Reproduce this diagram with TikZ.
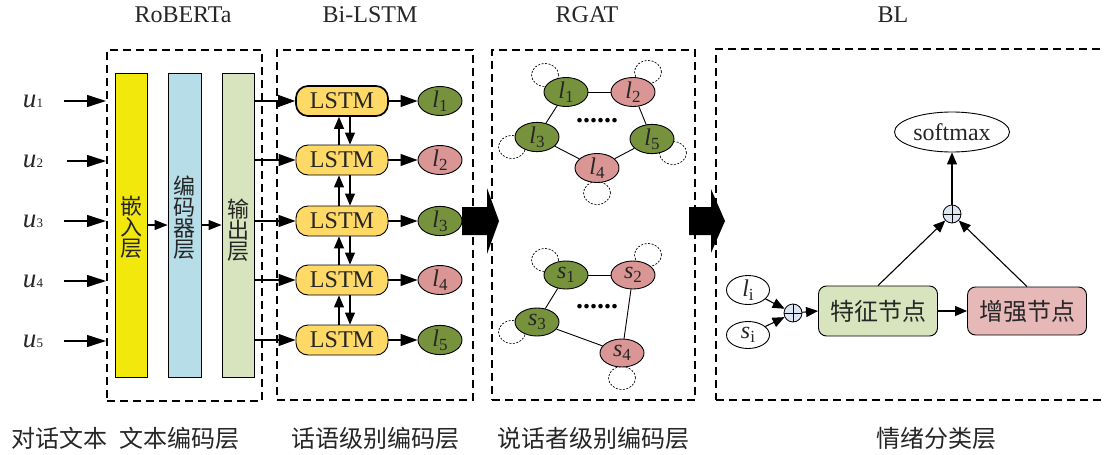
\documentclass[tikz,border=0pt]{standalone}
\usepackage{fontspec}
\setmainfont{Liberation Serif}
\newfontfamily\cjk{Noto Sans CJK SC}
\usetikzlibrary{arrows.meta,shapes.geometric}
\newcommand{\fsz}[1]{\fontsize{#1}{#1}\selectfont}
\newcommand{\lsub}[2]{\textit{#1}\raisebox{-0.35ex}{\fsz{17}#2}}
\newcommand{\ulab}[1]{\textit{u}{\fsz{13}#1}}
\definecolor{cyel}{RGB}{242,232,12}
\definecolor{cblu}{RGB}{183,221,232}
\definecolor{cgrn}{RGB}{215,228,189}
\definecolor{clstm}{RGB}{255,217,102}
\definecolor{cng}{RGB}{118,146,60}
\definecolor{cnp}{RGB}{217,150,148}
\definecolor{cenh}{RGB}{230,185,184}
\definecolor{cop}{RGB}{220,230,242}
\definecolor{ctxt}{RGB}{38,38,38}
\begin{document}
\begin{tikzpicture}[x=1pt,y=-1pt,
  dashbox/.style={draw, dash pattern=on 8pt off 5pt, line width=1.2pt, inner sep=0pt},
  bar/.style={draw, line width=0.9pt, minimum width=32pt, minimum height=304pt, inner sep=0pt},
  bartxt/.style={font=\cjk\fsz{22}, text=ctxt, align=center, inner sep=0pt},
  lstm/.style={draw, line width=0.9pt, fill=clstm, rounded corners=12pt, minimum width=92pt, minimum height=30pt, inner sep=0pt, font=\fsz{24}, text=ctxt},
  gn/.style={draw, line width=0.9pt, ellipse, fill=cng, minimum width=44pt, minimum height=29pt, inner sep=0pt, font=\fsz{24}, text=ctxt},
  pn/.style={gn, fill=cnp},
  wn/.style={draw, line width=0.9pt, ellipse, fill=white, minimum width=43pt, minimum height=27pt, inner sep=0pt, font=\fsz{24}, text=ctxt},
  lp/.style={draw, line width=0.7pt, dash pattern=on 2pt off 1.5pt, ellipse, minimum width=27pt, minimum height=23pt, inner sep=0pt},
  oplus/.style={draw, line width=0.8pt, circle, fill=cop, minimum size=18pt, inner sep=0pt,
     path picture={\draw[line width=0.8pt] (path picture bounding box.north) -- (path picture bounding box.south) (path picture bounding box.west) -- (path picture bounding box.east);}},
  bigarr/.style={-{Triangle[length=19pt,width=12pt]}, line width=1.1pt},
  midarr/.style={-{Triangle[length=17pt,width=12pt]}, line width=1.1pt},
  sarr/.style={-{Triangle[length=13pt,width=10pt]}, line width=1.1pt},
  varr/.style={-{Triangle[length=12pt,width=10pt]}, line width=1.1pt},
  edge/.style={line width=0.9pt},
  title/.style={font=\fsz{24}, text=ctxt, anchor=base, inner sep=0pt},
  bot/.style={font=\cjk\fsz{24}, text=ctxt, inner sep=0pt},
  blk/.style={fill=black}
]
\clip (0,0) rectangle (1104,455);
\fill[white] (0,0) rectangle (1104,455);

% titles
\node[title] (t1) at (183,22) {RoBERTa};
\node[title] (t2) at (370,22) {Bi-LSTM};
\node[title] (t3) at (587,22) {RGAT};
\node[title] (t4) at (893,22) {BL};

% dashed boxes
\node[dashbox, minimum width=155pt, minimum height=351pt] (boxA) at (184.5,225.5) {};
\node[dashbox, minimum width=196pt, minimum height=350pt] (boxB) at (375,225) {};
\node[dashbox, minimum width=203pt, minimum height=350pt] (boxC) at (593.5,225) {};
\node[dashbox, minimum width=400pt, minimum height=351pt] (boxD) at (916,224.5) {};

% RoBERTa bars
\node[bar, fill=cyel] (b1) at (131,225) {};
\node[bar, fill=cblu, minimum width=33pt] (b2) at (184.5,225) {};
\node[bar, fill=cgrn] (b3) at (238,225) {};
\node[bartxt] (bt1) at (131,227) {嵌\\[-1pt]入\\[-1pt]层};
\node[bartxt] (bt2) at (184.5,218) {编\\[-1pt]码\\[-1pt]器\\[-1pt]层};
\node[bartxt] (bt3) at (238,230) {输\\[-1pt]出\\[-1pt]层};
\draw[sarr] (b1.east) -- (b2.west);
\draw[sarr] (b2.east) -- (b3.west);

% inputs
\foreach \i/\y/\xs in {1/101/64,2/161/67,3/221/64,4/281/64,5/341/64}{
  \node[font=\fsz{27}, text=ctxt, inner sep=0pt] (u\i) at (33,\y) {\ulab{\i}};
  \coordinate (us\i) at (\xs,\y);
  \coordinate (ue\i) at (106,\y);
  \draw[bigarr] (us\i) -- (ue\i);
}

% LSTM column
\node[lstm, line width=1.7pt] (L1) at (342,101) {LSTM};
\node[lstm] (L2) at (342,160) {LSTM};
\node[lstm] (L3) at (342,221) {LSTM};
\node[lstm] (L4) at (342,280) {LSTM};
\node[lstm] (L5) at (342,340) {LSTM};
\node[gn] (o1) at (440,101) {\lsub{l}{1}};
\node[pn] (o2) at (440,160) {\lsub{l}{2}};
\node[gn] (o3) at (440,221) {\lsub{l}{3}};
\node[pn] (o4) at (440,280) {\lsub{l}{4}};
\node[gn] (o5) at (440,340) {\lsub{l}{5}};
\foreach \i in {1,...,5}{
  \draw[midarr] (b3.east |- L\i.west) -- (L\i.west);
  \draw[midarr] (L\i.east) -- (o\i.west);
}
\foreach \a/\b in {1/2,2/3,3/4,4/5}{
  \draw[varr] ([xshift=-3pt]L\b.north) -- ([xshift=-3pt]L\a.south);
  \draw[varr] ([xshift=8pt]L\a.south) -- ([xshift=8pt]L\b.north);
}

% big block arrows
\fill[blk] (462,207) -- (487,207) -- (487,188) -- (499,221) -- (487,254) -- (487,235) -- (462,235) -- cycle;
\fill[blk] (689,207) -- (711,207) -- (711,189) -- (725,221) -- (711,253) -- (711,235) -- (689,235) -- cycle;

% RGAT: self loops
\node[lp] (q1) at (545,75) {};
\node[lp] (q2) at (648,72) {};
\node[lp] (q3) at (512,147) {};
\node[lp] (q5) at (673,153) {};
\node[lp] (q4) at (597,193) {};
\node[lp] (r1) at (545,260) {};
\node[lp] (r2) at (648,255) {};
\node[lp] (r3) at (512,332) {};
\node[lp] (r4) at (622,378) {};
% l graph
\node[gn, minimum height=28pt] (g1) at (566,92) {\lsub{l}{1}};
\node[pn, minimum height=28pt] (g2) at (633,92) {\lsub{l}{2}};
\node[gn, minimum height=28pt] (g3) at (537,137) {\lsub{l}{3}};
\node[gn, minimum height=28pt] (g5) at (652,139) {\lsub{l}{5}};
\node[pn, minimum height=28pt] (g4) at (597,168) {\lsub{l}{4}};
\node[font=\fsz{28}\bfseries, inner sep=0pt] (d1) at (597,121) {......};
\draw[edge] (g1) -- (g2);
\draw[edge] (g1) -- (g3);
\draw[edge] (g3) -- (g4);
\draw[edge] (g4) -- (g5);
\draw[edge] (g2) -- (g5);
% s graph
\node[gn, minimum height=28pt] (s1) at (566,275) {\lsub{s}{1}};
\node[pn, minimum height=28pt] (s2) at (633,275) {\lsub{s}{2}};
\node[gn, minimum height=28pt] (s3) at (537,322) {\lsub{s}{3}};
\node[pn, minimum height=28pt] (s4) at (622,353) {\lsub{s}{4}};
\node[font=\fsz{28}\bfseries, inner sep=0pt] (d2) at (597,307) {......};
\draw[edge] (s1) -- (s2);
\draw[edge] (s1) -- (s3);
\draw[edge] (s3) -- (s4);
\draw[edge] (s2) -- (s4);

% BL
\node[wn, minimum width=115pt, minimum height=40pt] (sm) at (952,132) {softmax};
\node[oplus] (p2) at (952,214) {};
\node[draw, line width=0.9pt, fill=cgrn, rounded corners=8pt, minimum width=119pt, minimum height=50pt, inner sep=0pt, font=\cjk\fsz{24}, text=ctxt] (fe) at (878,311) {特征节点};
\node[draw, line width=0.9pt, fill=cenh, rounded corners=8pt, minimum width=119pt, minimum height=48pt, inner sep=0pt, font=\cjk\fsz{24}, text=ctxt] (en) at (1027,311) {增强节点};
\node[wn] (li) at (748,290) {\lsub{l}{i}};
\node[wn] (si) at (748,335) {\lsub{s}{i}};
\node[oplus] (p1) at (793,313) {};
\draw[varr] (li) -- (p1);
\draw[varr] (si) -- (p1);
\draw[varr] (p1) -- (fe.west);
\draw[varr] (fe.east) -- (en.west);
\draw[varr] (fe.north) -- (p2);
\draw[varr] (en.north) -- (p2);
\draw[varr] (p2) -- (sm.south);

% bottom labels
\node[bot] (c1) at (60,438) {对话文本};
\node[bot] (c2) at (179,438) {文本编码层};
\node[bot] (c3) at (375,438) {话语级别编码层};
\node[bot] (c4) at (593,438) {说话者级别编码层};
\node[bot] (c5) at (936,438) {情绪分类层};
\end{tikzpicture}
\end{document}
